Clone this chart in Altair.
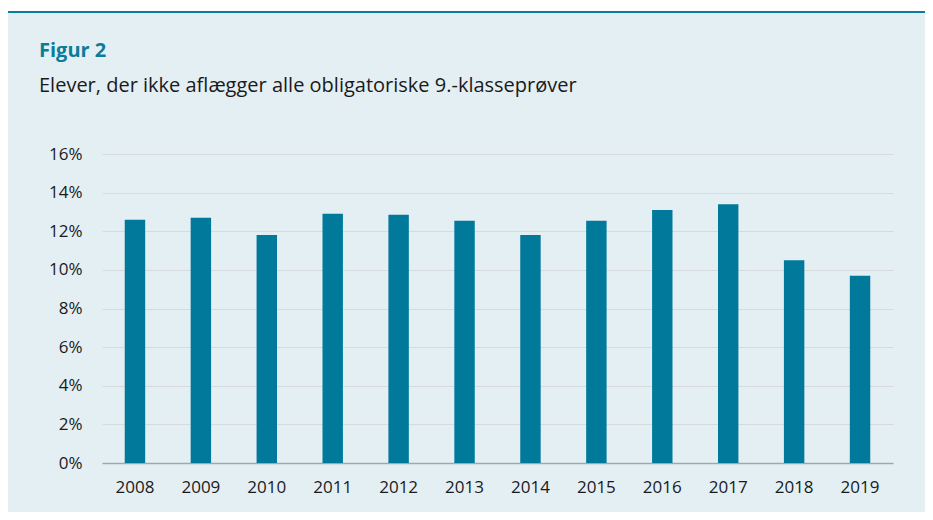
import altair as alt
import pandas as pd

years = ["2008", "2009", "2010", "2011", "2012", "2013", "2014", "2015", "2016", "2017", "2018", "2019"]
values = [12.6, 12.7, 11.8, 12.9, 12.85, 12.55, 11.8, 12.55, 13.1, 13.4, 10.5, 9.7]
y_ticks = [0, 2, 4, 6, 8, 10, 12, 14, 16]

title_text = "Figur 2"
subtitle_text = "Elever, der ikke aflægger alle obligatoriske 9.-klasseprøver"

df = pd.DataFrame({"year": years, "value": values})
one = pd.DataFrame({"k": [0]})

BAR = "#00799a"
BG = "#e4eff4"
TEAL = "#0b7c99"
FONT = "Open Sans"

bars = alt.Chart(df).mark_bar(color=BAR).encode(
    x=alt.X("year:N", title=None,
            scale=alt.Scale(paddingInner=0.69, paddingOuter=0.345),
            axis=alt.Axis(labelAngle=0, ticks=False, domain=True, domainColor="#a3a7aa",
                          domainWidth=1.5, labelFontSize=17, labelColor="#1a1a1a",
                          labelFont=FONT, labelPadding=16, grid=False)),
    y=alt.Y("value:Q", title=None,
            scale=alt.Scale(domain=[0, 16], nice=False),
            axis=alt.Axis(values=y_ticks, labelExpr="datum.value + '%'", ticks=False,
                          domain=False, grid=True, gridColor="#d6dadc", gridWidth=1,
                          labelFontSize=17, labelColor="#1a1a1a", labelFont=FONT,
                          labelPadding=20)),
)

top_white = alt.Chart(one).mark_rule(color="white", strokeWidth=3).encode(
    x=alt.value(-100), x2=alt.value(830), y=alt.value(-144.5)
)
top_line = alt.Chart(one).mark_rule(color=TEAL, strokeWidth=2).encode(
    x=alt.value(-100), x2=alt.value(830), y=alt.value(-142)
)
title_mark = alt.Chart(one).mark_text(
    align="left", baseline="alphabetic", font=FONT, fontSize=20, fontWeight="bold", color=TEAL
).encode(x=alt.value(-63), y=alt.value(-97), text=alt.value(title_text))
subtitle_mark = alt.Chart(one).mark_text(
    align="left", baseline="alphabetic", font=FONT, fontSize=20, color="#1a1a1a"
).encode(x=alt.value(-63), y=alt.value(-62), text=alt.value(subtitle_text))

chart = alt.layer(bars, top_white, top_line, title_mark, subtitle_mark).properties(
    width=791,
    height=309,
    background=BG,
    padding={"left": 94, "top": 146, "right": 32, "bottom": 49},
    autosize=alt.AutoSizeParams(type="none"),
).configure_view(stroke=None)

chart.save("out.html", embed_options={"renderer": "svg", "actions": False})
